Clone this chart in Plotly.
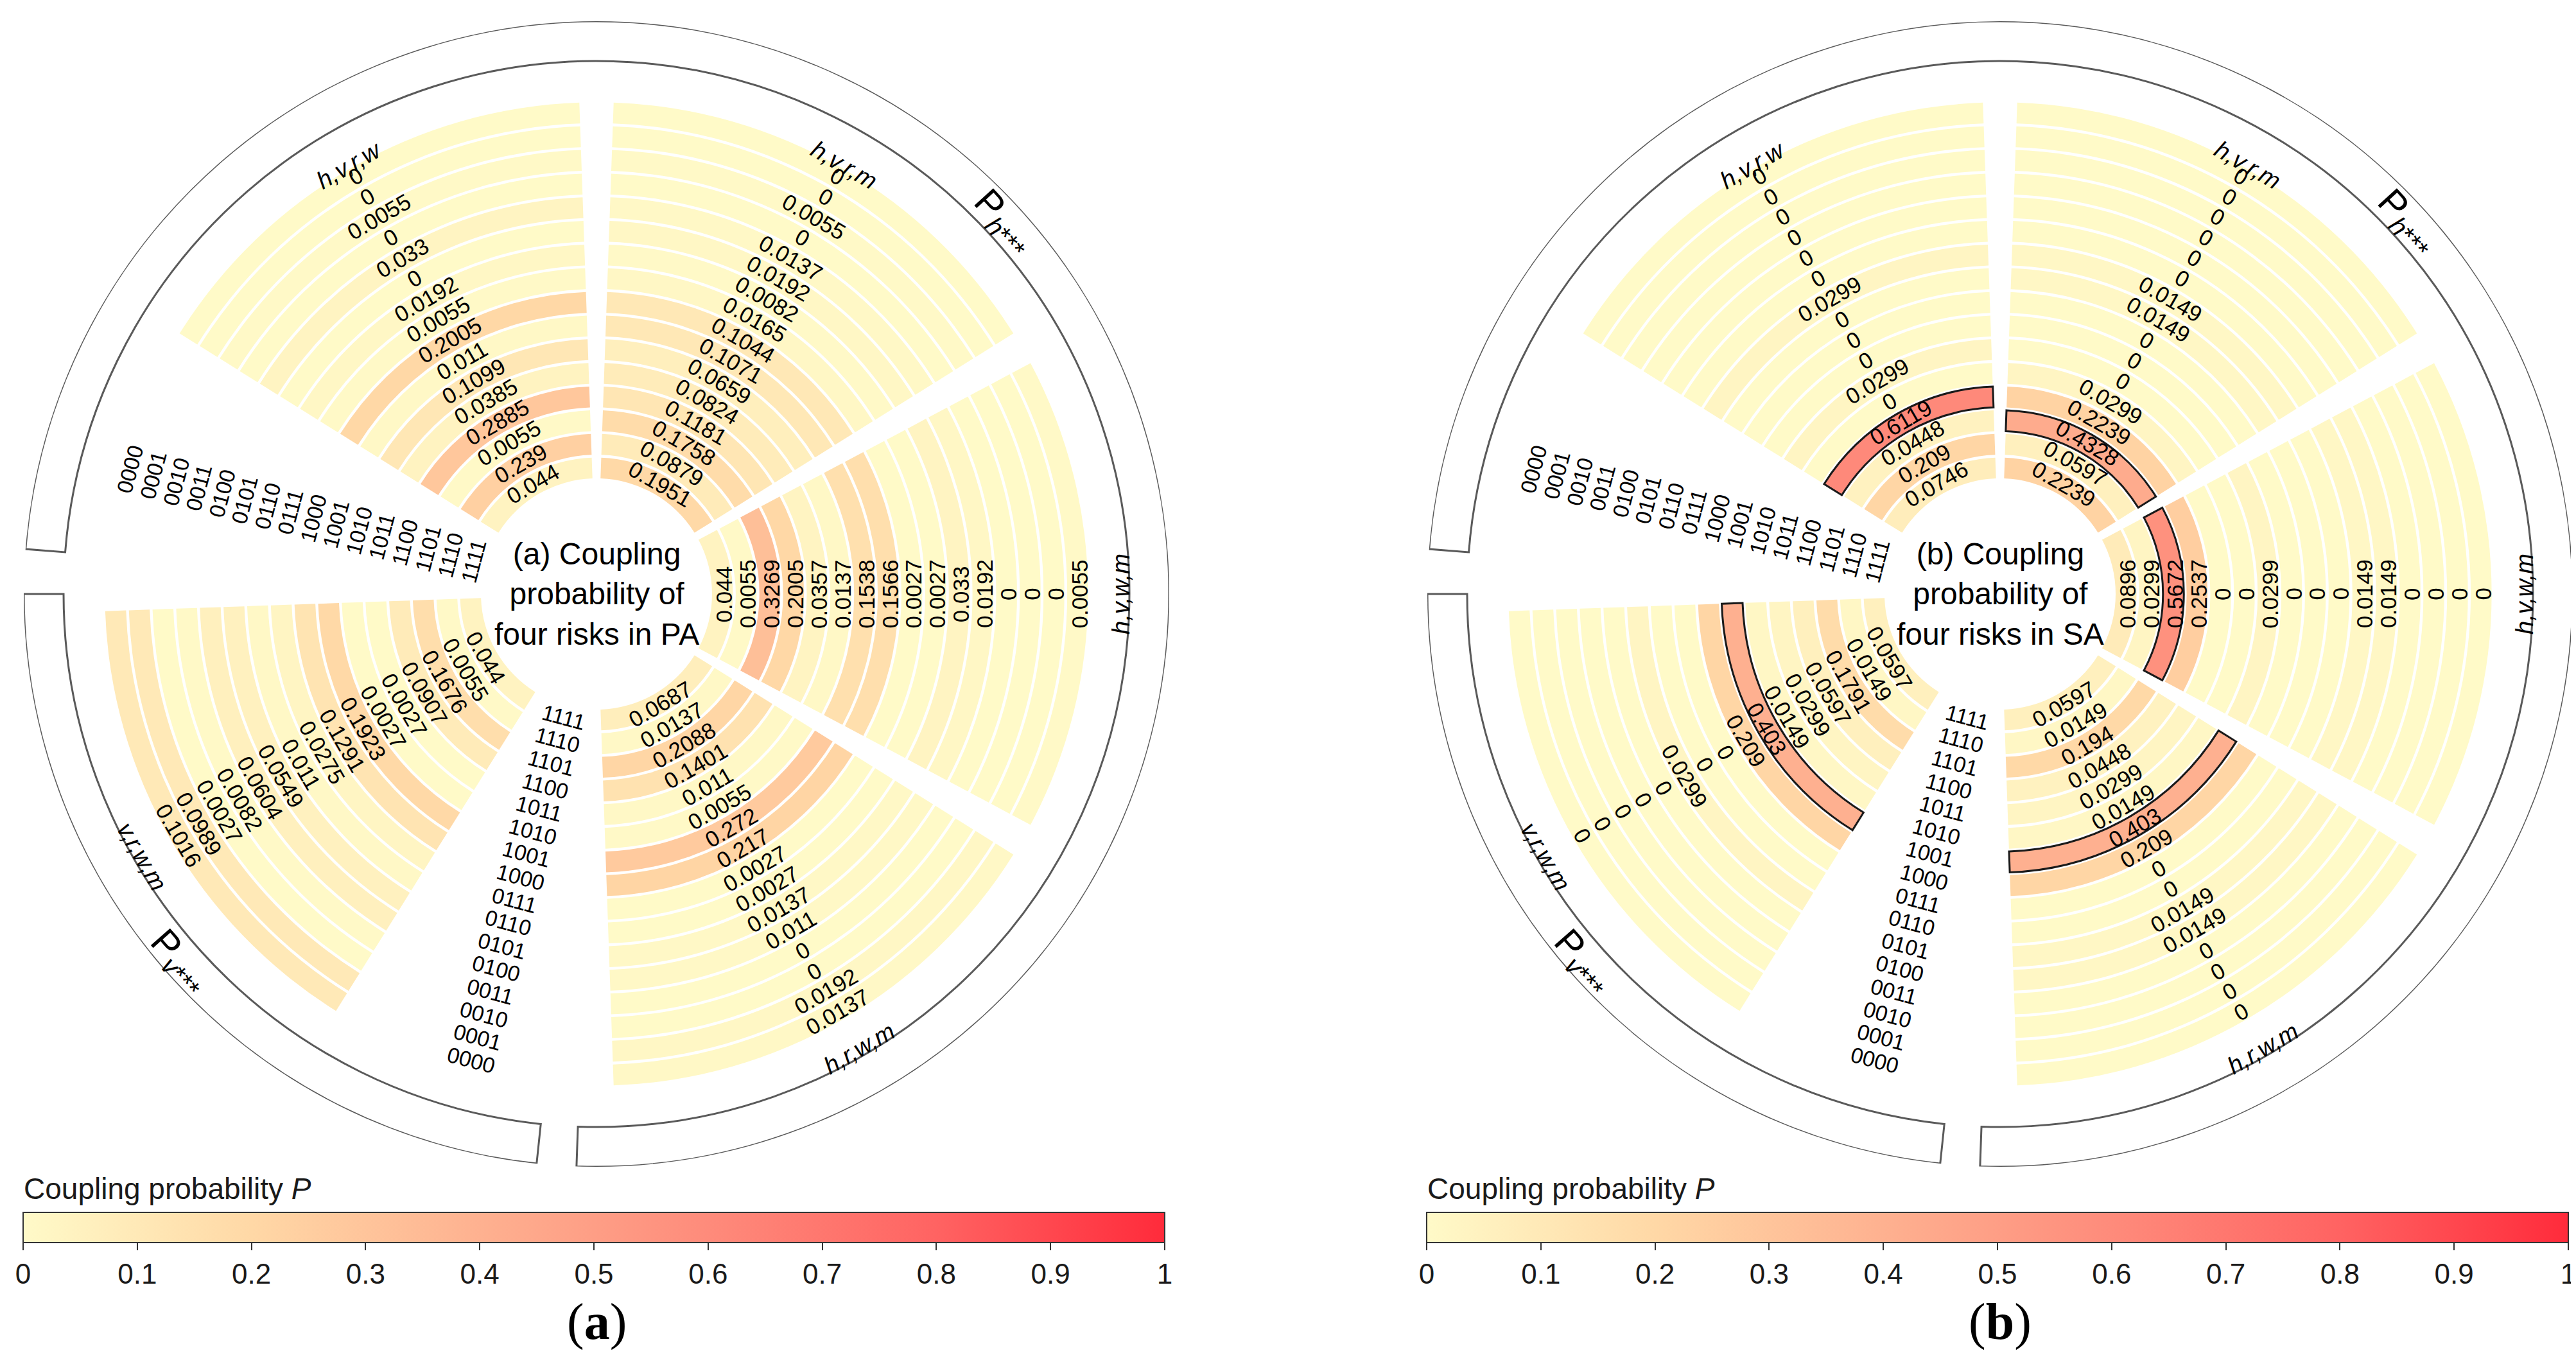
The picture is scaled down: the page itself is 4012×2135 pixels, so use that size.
import math

import plotly.graph_objects as go

W, H = 4012, 2135
FONT = "Liberation Sans"

# risk-state combinations, innermost ring -> outermost ring
combos = ["1111", "1110", "1101", "1100", "1011", "1010", "1001", "1000",
          "0111", "0110", "0101", "0100", "0011", "0010", "0001", "0000"]
sectors = ["h,v,r,w", "h,v,r,m", "h,v,w,m", "h,r,w,m", "v,r,w,m"]

# (a) PA: coupling probability per sector, same order as combos
pa_hvrw = [0.044, 0.239, 0.0055, 0.2885, 0.0385, 0.1099, 0.011, 0.2005,
           0.0055, 0.0192, 0, 0.033, 0, 0.0055, 0, 0]
pa_hvrm = [0.1951, 0.0879, 0.1758, 0.1181, 0.0824, 0.0659, 0.1071, 0.1044,
           0.0165, 0.0082, 0.0192, 0.0137, 0, 0.0055, 0, 0]
pa_hvwm = [0.044, 0.0055, 0.3269, 0.2005, 0.0357, 0.0137, 0.1538, 0.1566,
           0.0027, 0.0027, 0.033, 0.0192, 0, 0, 0, 0.0055]
pa_hrwm = [0.0687, 0.0137, 0.2088, 0.1401, 0.011, 0.0055, 0.272, 0.217,
           0.0027, 0.0027, 0.0137, 0.011, 0, 0, 0.0192, 0.0137]
pa_vrwm = [0.044, 0.0055, 0.1676, 0.0907, 0.0027, 0.0027, 0.1923, 0.1291,
           0.0275, 0.011, 0.0549, 0.0604, 0.0082, 0.0027, 0.0989, 0.1016]

# (b) SA
sa_hvrw = [0.0746, 0.209, 0.0448, 0.6119, 0, 0.0299, 0, 0,
           0, 0.0299, 0, 0, 0, 0, 0, 0]
sa_hvrm = [0.2239, 0.0597, 0.4328, 0.2239, 0.0299, 0, 0, 0,
           0.0149, 0.0149, 0, 0, 0, 0, 0, 0]
sa_hvwm = [0.0896, 0.0299, 0.5672, 0.2537, 0, 0, 0.0299, 0,
           0, 0, 0.0149, 0.0149, 0, 0, 0, 0]
sa_hrwm = [0.0597, 0.0149, 0.194, 0.0448, 0.0299, 0.0149, 0.403, 0.209,
           0, 0, 0.0149, 0.0149, 0, 0, 0, 0]
sa_vrwm = [0.0597, 0.0149, 0.1791, 0.0597, 0.0299, 0.0149, 0.403, 0.209,
           0, 0, 0.0299, 0, 0, 0, 0, 0]

cbar_ticks = [0, 0.1, 0.2, 0.3, 0.4, 0.5, 0.6, 0.7, 0.8, 0.9, 1]
cbar_ticktext = ["0", "0.1", "0.2", "0.3", "0.4", "0.5", "0.6", "0.7", "0.8", "0.9", "1"]

# ---- layout (pixels) ----
SECTOR_THETA = {"h,v,r,w": 120, "h,v,r,m": 60, "h,v,w,m": 0, "h,r,w,m": -60, "v,r,w,m": 210}
SECTOR_W = 56
R0, PITCH, FILL = 180, 36.875, 32.5
LABEL_THETA = (165, 255)
R_MAX = 892
BR_IN, BR_OUT = 830, 892
CBAR_LEN = 1778
# brackets: (label, centre angle, span, label angle, label radius)
BRACKETS = [("P<sub><i>h</i>***</sub>", 41.75, 267.5, 42.4, 858),
            ("P<sub><i>v</i>***</sub>", 222.0, 84.0, 221.4, 866)]
COLORSCALE = [[0, "#FFFAC8"], [0.2, "#FFD8A6"], [0.4, "#FEB190"],
              [0.6, "#FE8B7B"], [0.8, "#FF6362"], [1, "#FF2B3B"]]

panels = [
    dict(key="polar", cax="coloraxis", cx=921, cy=917,
         data=[pa_hvrw, pa_hvrm, pa_hvwm, pa_hrwm, pa_vrwm], mark=False,
         centre="(a) Coupling<br>probability of<br>four risks in PA", tag="(<b>a</b>)"),
    dict(key="polar2", cax="coloraxis2", cx=3107, cy=917,
         data=[sa_hvrw, sa_hvrm, sa_hvwm, sa_hrwm, sa_vrwm], mark=True,
         centre="(b) Coupling<br>probability of<br>four risks in SA", tag="(<b>b</b>)"),
]


def paper(cx, cy, r, th):
    a = math.radians(th)
    return (cx + r * math.cos(a)) / W, 1 - (cy - r * math.sin(a)) / H


def tangent(th):
    t = th % 360
    phi = t - 90 if 0 < t < 180 else t + 90
    ang = -phi
    while ang <= -180:
        ang += 360
    while ang > 180:
        ang -= 360
    return ang


fig = go.Figure()
ann = []
layout_extra = {}

for p in panels:
    cx, cy = p["cx"], p["cy"]
    sub = p["key"]

    # outer brackets
    fig.add_trace(go.Barpolar(
        theta=[b[1] for b in BRACKETS], width=[b[2] for b in BRACKETS],
        base=[BR_IN] * 2, r=[BR_OUT - BR_IN] * 2, subplot=sub,
        marker=dict(color="white", line=dict(color="#5a5a5a", width=3)),
        hoverinfo="skip", showlegend=False))

    th, base, rr, col = [], [], [], []
    hth, hbase, hcol = [], [], []
    for name, vals in zip(sectors, p["data"]):
        top = max(vals)
        for k, v in enumerate(vals):
            th.append(SECTOR_THETA[name])
            base.append(R0 + k * PITCH)
            rr.append(FILL)
            col.append(v)
            if p["mark"] and v == top:
                hth.append(SECTOR_THETA[name])
                hbase.append(R0 + k * PITCH)
                hcol.append(v)
            x, y = paper(cx, cy, R0 + (k + 0.5) * PITCH, SECTOR_THETA[name])
            ann.append(dict(x=x, y=y, text=f"{v:g}", textangle=tangent(SECTOR_THETA[name]),
                            font=dict(size=35, color="black")))
        # sector name at the outer end
        t = SECTOR_THETA[name] % 360
        rc = 771 if 0 < t < 180 else 817
        x, y = paper(cx, cy, rc, SECTOR_THETA[name])
        ann.append(dict(x=x, y=y, text=f"<i>{name}</i>", textangle=tangent(SECTOR_THETA[name]),
                        font=dict(size=38, color="black")))

    fig.add_trace(go.Barpolar(
        theta=th, base=base, r=rr, width=[SECTOR_W] * len(th), subplot=sub,
        marker=dict(color=col, coloraxis=p["cax"], line=dict(width=0)),
        hoverinfo="skip", showlegend=False))
    if hth:
        fig.add_trace(go.Barpolar(
            theta=hth, base=hbase, r=[FILL] * len(hth), width=[SECTOR_W] * len(hth),
            subplot=sub,
            marker=dict(color=hcol, coloraxis=p["cax"], line=dict(color="#1a1a1a", width=3)),
            hoverinfo="skip", showlegend=False))

    # combination labels in the two empty gaps
    for lt in LABEL_THETA:
        for k, c in enumerate(combos):
            x, y = paper(cx, cy, R0 + (k + 0.5) * PITCH, lt)
            ann.append(dict(x=x, y=y, text=c, textangle=tangent(lt),
                            font=dict(size=34, color="black")))

    for text, _, _, la, lr in BRACKETS:
        x, y = paper(cx, cy, lr, la)
        ann.append(dict(x=x, y=y, text=text, textangle=tangent(la),
                        font=dict(size=58, color="black")))

    ann.append(dict(x=cx / W, y=1 - cy / H, text=p["centre"],
                    font=dict(size=48, color="black")))
    ann.append(dict(x=cx / W, y=1 - 2050 / H, text=p["tag"],
                    font=dict(size=80, color="black", family="Liberation Serif")))
    ann.append(dict(x=(cx - 894) / W, y=1 - 1843 / H, text="Coupling probability <i>P</i>",
                    xanchor="left", font=dict(size=46, color="#1a1a1a")))

    layout_extra[sub] = dict(
        domain=dict(x=[(cx - R_MAX) / W, (cx + R_MAX) / W],
                    y=[1 - (cy + R_MAX) / H, 1 - (cy - R_MAX) / H]),
        bgcolor="white",
        radialaxis=dict(range=[0, R_MAX], visible=False, showgrid=False),
        angularaxis=dict(visible=False, showgrid=False, rotation=0,
                         direction="counterclockwise"),
        barmode="overlay",
    )
    layout_extra[p["cax"]] = dict(
        cmin=0, cmax=1, colorscale=COLORSCALE,
        colorbar=dict(
            orientation="h", x=(cx - 893) / W, xanchor="left", y=1 - 1880 / H, yanchor="top",
            len=CBAR_LEN / W, lenmode="fraction", thickness=47, thicknessmode="pixels",
            xpad=0, ypad=0, outlinewidth=2, outlinecolor="#333333",
            ticks="outside", ticklen=11, tickwidth=2, tickcolor="#333333",
            tickvals=cbar_ticks, ticktext=cbar_ticktext, ticklabeloverflow="allow",
            tickfont=dict(size=44, color="#1a1a1a", family=FONT),
        ),
    )

for a in ann:
    a.setdefault("xanchor", "center")
    a.update(xref="paper", yref="paper", showarrow=False, yanchor="middle")

fig.update_layout(
    width=W, height=H, margin=dict(l=0, r=0, t=0, b=0),
    paper_bgcolor="white", plot_bgcolor="white",
    font=dict(family=FONT, color="black"),
    annotations=ann, hovermode=False, showlegend=False,
    **layout_extra,
)

fig.write_html("out.html")
